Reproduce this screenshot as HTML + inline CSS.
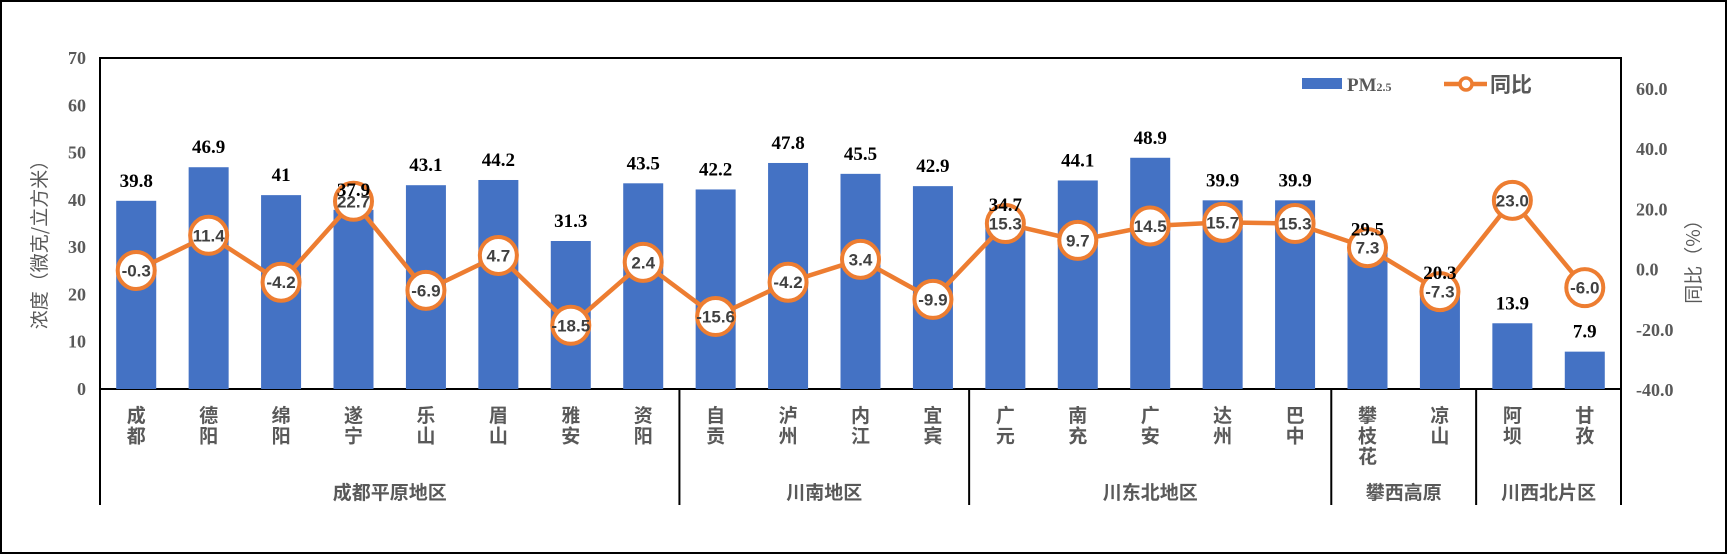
<!DOCTYPE html>
<html><head><meta charset="utf-8"><style>
html,body{margin:0;padding:0;background:#fff;}
svg{display:block;}
</style></head><body>
<svg id="c" width="1728" height="555" xmlns="http://www.w3.org/2000/svg"></svg>
<script>
const names=[["成","都"],["德","阳"],["绵","阳"],["遂","宁"],["乐","山"],["眉","山"],["雅","安"],["资","阳"],["自","贡"],["泸","州"],["内","江"],["宜","宾"],["广","元"],["南","充"],["广","安"],["达","州"],["巴","中"],["攀","枝","花"],["凉","山"],["阿","坝"],["甘","孜"]];
const bars=[39.8,46.9,41,37.9,43.1,44.2,31.3,43.5,42.2,47.8,45.5,42.9,34.7,44.1,48.9,39.9,39.9,29.5,20.3,13.9,7.9];
const yoy=[-0.3,11.4,-4.2,22.7,-6.9,4.7,-18.5,2.4,-15.6,-4.2,3.4,-9.9,15.3,9.7,14.5,15.7,15.3,7.3,-7.3,23.0,-6.0];
const L=100,R=1621,T=58,B=389,n=21,w=(R-L)/n;
const yL=v=>B-v*(B-T)/70, yR=v=>269.6-v*3.01;
const serif='font-family="Liberation Serif, Noto Serif CJK SC, serif" font-weight="bold"';
const sans='font-family="Liberation Sans, Noto Sans CJK SC, sans-serif" font-weight="bold"';
let s='<rect x="1" y="1" width="1725" height="552" fill="#fff" stroke="#000" stroke-width="2"/>';
s+=`<rect x="${L}" y="${T}" width="${R-L}" height="${B-T}" fill="none" stroke="#000" stroke-width="2"/>`;
for(let v=0;v<=70;v+=10)s+=`<text x="86" y="${yL(v)+6}" text-anchor="end" font-size="18" fill="#595959" ${serif}>${v}</text>`;
for(let v=-40;v<=60;v+=20)s+=`<text x="1636" y="${yR(v)+6}" font-size="18" fill="#595959" ${serif}>${v.toFixed(1)}</text>`;
s+=`<text transform="translate(46,240) rotate(-90)" text-anchor="middle" font-size="19" fill="#595959" font-family="Noto Sans CJK SC, sans-serif">浓度（微克/立方米）</text>`;
s+=`<text transform="translate(1700,257) rotate(-90)" text-anchor="middle" font-size="19" fill="#595959" font-family="Noto Sans CJK SC, sans-serif">同比（%）</text>`;
let lbl='';
for(let i=0;i<n;i++){const cx=L+w*(i+0.5),y=yL(bars[i]);
s+=`<rect x="${cx-20}" y="${y}" width="40" height="${B-y}" fill="#4472C4"/>`;
lbl+=`<text x="${cx}" y="${y-14}" text-anchor="middle" font-size="19" fill="#000" ${serif}>${bars[i]}</text>`;
names[i].forEach((c,j)=>s+=`<text x="${cx}" y="${422+j*20.5}" text-anchor="middle" font-size="19" fill="#595959" ${sans}>${c}</text>`);}
let p=yoy.map((v,i)=>`${L+w*(i+0.5)},${yR(v)}`).join(' ');
s+=`<polyline points="${p}" fill="none" stroke="#ED7D31" stroke-width="4.5"/>`;
yoy.forEach((v,i)=>{const cx=L+w*(i+0.5),cy=yR(v);
s+=`<circle cx="${cx}" cy="${cy}" r="18.5" fill="#fff" stroke="#ED7D31" stroke-width="4"/>`;
s+=`<text x="${cx}" y="${cy+6}" text-anchor="middle" font-size="17" fill="#404040" ${sans}>${v.toFixed(1)}</text>`;});
s+=lbl;
[0,8,12,17,19,21].forEach(k=>{const x=L+w*k;s+=`<line x1="${x}" y1="${B}" x2="${x}" y2="505" stroke="#000" stroke-width="2"/>`;});
[["成都平原地区",0,8],["川南地区",8,12],["川东北地区",12,17],["攀西高原",17,19],["川西北片区",19,21]].forEach(g=>{
s+=`<text x="${L+w*(g[1]+g[2])/2}" y="499" text-anchor="middle" font-size="19" fill="#595959" ${sans}>${g[0]}</text>`;});
s+=`<rect x="1302" y="78" width="40" height="11" fill="#4472C4"/>`;
s+=`<text x="1347" y="91" font-size="19" fill="#595959" ${serif}>PM<tspan font-size="12">2.5</tspan></text>`;
s+=`<line x1="1444" y1="84" x2="1487" y2="84" stroke="#ED7D31" stroke-width="4.5"/><circle cx="1466" cy="84" r="6" fill="#fff" stroke="#ED7D31" stroke-width="3.5"/>`;
s+=`<text x="1490" y="92" font-size="21" fill="#595959" ${sans}>同比</text>`;
document.getElementById('c').innerHTML=s;
</script>
</body></html>
